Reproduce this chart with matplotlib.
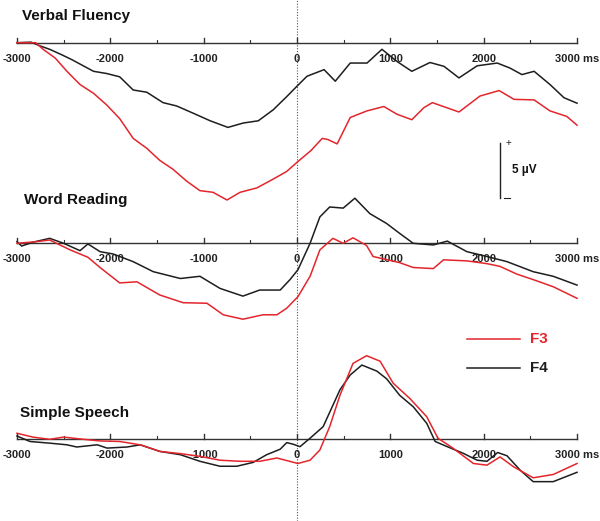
import numpy as np
import matplotlib
matplotlib.use('Agg')
import matplotlib.pyplot as plt

plt.rcParams['font.family'] = ['Liberation Sans', 'DejaVu Sans']

# ─── Data (µV) ───
vf_f4_t = [-3000, -2850, -2750, -2650, -2520, -2410, -2290, -2180, -2040, -1900,
           -1755, -1610, -1435, -1290, -1115, -930, -740, -575, -415, -255, -110,
           0, 107, 290, 410, 570, 750, 910, 1070, 1230, 1425, 1575, 1735, 1930,
           2145, 2280, 2410, 2540, 2710, 2860, 3000]
vf_f4_v = [0.0, 0.05, -0.3, -0.6, -1.1, -1.55, -2.1, -2.6, -2.8, -3.1,
           -4.3, -4.5, -5.45, -5.75, -6.4, -7.1, -7.7, -7.3, -7.1, -6.1, -4.9,
           -3.95, -3.05, -2.45, -3.5, -1.85, -1.85, -0.6, -1.7, -2.6, -1.8, -2.15, -3.2, -2.1,
           -1.85, -2.3, -2.9, -2.6, -3.8, -5.0, -5.5]
vf_f3_t = [-3000, -2800, -2720, -2590, -2465, -2325, -2180, -2040, -1900, -1755,
           -1610, -1470, -1330, -1180, -1040, -900, -750, -610, -430, -255, -110,
           10, 150, 270, 330, 430, 570, 750, 930, 1070, 1230, 1360, 1450, 1735,
           1960, 2165, 2325, 2540, 2710, 2890, 3000]
vf_f3_v = [0.0, 0.0, -0.6, -1.4, -2.6, -3.8, -4.6, -5.65, -6.9, -8.7,
           -9.6, -10.7, -11.5, -12.6, -13.45, -13.6, -14.3, -13.6, -13.2, -12.4, -11.7,
           -10.8, -9.8, -8.7, -8.8, -9.2, -6.8, -6.2, -5.8, -6.5, -7.0, -5.9, -5.45, -6.3,
           -4.85, -4.35, -5.15, -5.2, -6.2, -6.7, -7.5]

wr_f4_t = [-3000, -2950, -2830, -2650, -2500, -2325, -2240, -2110, -1970, -1755,
           -1540, -1250, -1040, -825, -580, -400, -180, -75, 10, 140, 245, 350,
           495, 620, 780, 960, 1100, 1245, 1460, 1610, 1820, 2035, 2250, 2530,
           2745, 3000]
wr_f4_v = [0.15, -0.25, 0.1, 0.45, 0.0, -0.67, -0.06, -0.76, -0.97, -1.67,
           -2.58, -3.2, -3.0, -4.1, -4.8, -4.25, -4.25, -3.3, -2.4, 0.0, 2.4, 3.3,
           3.2, 4.1, 2.7, 1.8, 0.9, 0.0, -0.15, 0.2, -0.76, -1.2, -1.67, -2.58,
           -3.0, -3.8]
wr_f3_t = [-3000, -2790, -2650, -2430, -2240, -2110, -1900, -1715, -1470, -1220,
           -965, -790, -580, -365, -215, -110, 10, 140, 245, 385, 495, 600, 745,
           815, 1100, 1245, 1460, 1570, 1820, 2035, 2175, 2355, 2530, 2745, 3000]
wr_f3_v = [0.0, 0.15, 0.3, -0.6, -1.27, -2.2, -3.6, -3.5, -4.7, -5.4,
           -5.45, -6.5, -6.9, -6.5, -6.5, -5.9, -4.85, -3.0, -0.6, 0.45, 0.0, 0.5, -0.2,
           -1.2, -1.76, -2.2, -2.3, -1.5, -1.6, -1.85, -2.1, -2.8, -3.3, -3.95, -5.0]

ss_f4_t = [-3000, -2860, -2650, -2465, -2360, -2140, -2035, -1820, -1680, -1470,
           -1250, -1040, -825, -645, -470, -325, -180, -110, -40, 32, 140, 280,
           460, 570, 695, 855, 960, 1100, 1245, 1390, 1480, 1610, 1780, 1930,
           2035, 2150, 2250, 2390, 2530, 2745, 3000]
ss_f4_v = [0.3, -0.2, -0.35, -0.5, -0.7, -0.5, -0.8, -0.7, -0.5, -1.1,
           -1.4, -2.0, -2.45, -2.45, -2.1, -1.4, -0.9, -0.3, -0.45, -0.67, 0.1, 1.15,
           4.5, 5.85, 6.75, 6.2, 5.5, 4.0, 2.96, 1.45, -0.2, -0.67, -1.27, -1.9,
           -2.0, -1.2, -1.5, -2.8, -3.85, -3.85, -3.0]
ss_f3_t = [-3000, -2830, -2650, -2500, -2290, -2110, -1900, -1680, -1470, -1250,
           -1040, -825, -610, -400, -215, 10, 140, 245, 350, 460, 600, 745, 890,
           1030, 1210, 1390, 1510, 1670, 1890, 2035, 2175, 2320, 2530, 2745, 3000]
ss_f3_v = [0.55, 0.2, 0.0, 0.2, 0.0, -0.15, -0.2, -0.5, -1.1, -1.3,
           -1.55, -1.9, -2.0, -2.0, -1.7, -2.2, -1.9, -0.97, 1.15, 4.0, 6.9, 7.6, 7.1,
           5.1, 3.7, 2.05, 0.1, -0.8, -2.2, -2.35, -1.6, -2.5, -3.5, -3.2, -2.2]

panels = ['Verbal Fluency', 'Word Reading', 'Simple Speech']
tick_ms = [-3000, -2000, -1000, 0, 1000, 2000, 3000]
tick_labels = ['-3000', '-2000', '-1000', '0', '1000', '2000', '3000 ms']
minor_ms = [-2500, -1500, -500, 500, 1500, 2500]

RED = '#e3262c'
BLK = '#1e1e1e'
PX = 1 / 11.0            # 1 px in µV (5 µV bar ~ 55 px)
offsets = [-42.7 * PX, -243.3 * PX, -439.3 * PX]
title_y = [-16 * PX, -200 * PX, -413 * PX]
title_x = [-2950, -2920, -2970]

fig = plt.figure(figsize=(6.0, 5.21), dpi=100)
ax = fig.add_axes([0, 0, 1, 1])
ax.set_xlim(-3182, 3246)
ax.set_ylim(-521 * PX, 0)
ax.axis('off')

data = [(vf_f3_t, vf_f3_v, vf_f4_t, vf_f4_v),
        (wr_f3_t, wr_f3_v, wr_f4_t, wr_f4_v),
        (ss_f3_t, ss_f3_v, ss_f4_t, ss_f4_v)]

for k, (t3, v3, t4, v4) in enumerate(data):
    off = offsets[k]
    # baseline + ticks
    ax.plot([-3000, 3000], [off, off], color='#333333', lw=1.0, zorder=1)
    for t in tick_ms:
        ax.plot([t, t], [off, off + 5 * PX], color='#333333', lw=1.0, zorder=1)
    for t in minor_ms:
        ax.plot([t, t], [off, off + 3 * PX], color='#333333', lw=0.8, zorder=1)
    for t, lab in zip(tick_ms, tick_labels):
        ax.text(t, off - 16 * PX, lab, ha='center', va='center',
                fontsize=8, fontweight='bold', color='#222222', zorder=2)
    ax.plot(t4, np.array(v4) + off, color=BLK, lw=1.1, zorder=3)
    ax.plot(t3, np.array(v3) + off, color=RED, lw=1.1, zorder=4)
    ax.text(title_x[k], title_y[k], panels[k], ha='left', va='center',
            fontsize=11, fontweight='bold', color='#111111')

# stimulus onset line
ax.axvline(0, color='#555555', lw=0.8, ls=(0, (1, 1.5)), zorder=0)

# scale bar 5 µV
sb_x = (500 - 297) * 6000 / 560
sb_top = -143 * PX
ax.plot([sb_x, sb_x], [sb_top, sb_top - 5], color='#222222', lw=1.0)
ax.text(sb_x + 55, sb_top, '+', fontsize=7, ha='left', va='center', color='#222222')
ax.plot([sb_x + 40, sb_x + 110], [sb_top - 5, sb_top - 5], color='#222222', lw=0.8)
ax.text(sb_x + 130, sb_top - 2.5, '5 µV', fontsize=8.5, fontweight='bold',
        ha='left', va='center', color='#111111')

# legend
leg_x0, leg_x1 = (467 - 297) * 6000 / 560, (520 - 297) * 6000 / 560
for y_px, col, lab in [(339, RED, 'F3'), (368, BLK, 'F4')]:
    ax.plot([leg_x0, leg_x1], [-y_px * PX, -y_px * PX], color=col, lw=1.1)
    ax.text(leg_x1 + 110, -y_px * PX, lab, fontsize=11, fontweight='bold',
            color=col, ha='left', va='center')

fig.savefig('out.png', dpi=100)
